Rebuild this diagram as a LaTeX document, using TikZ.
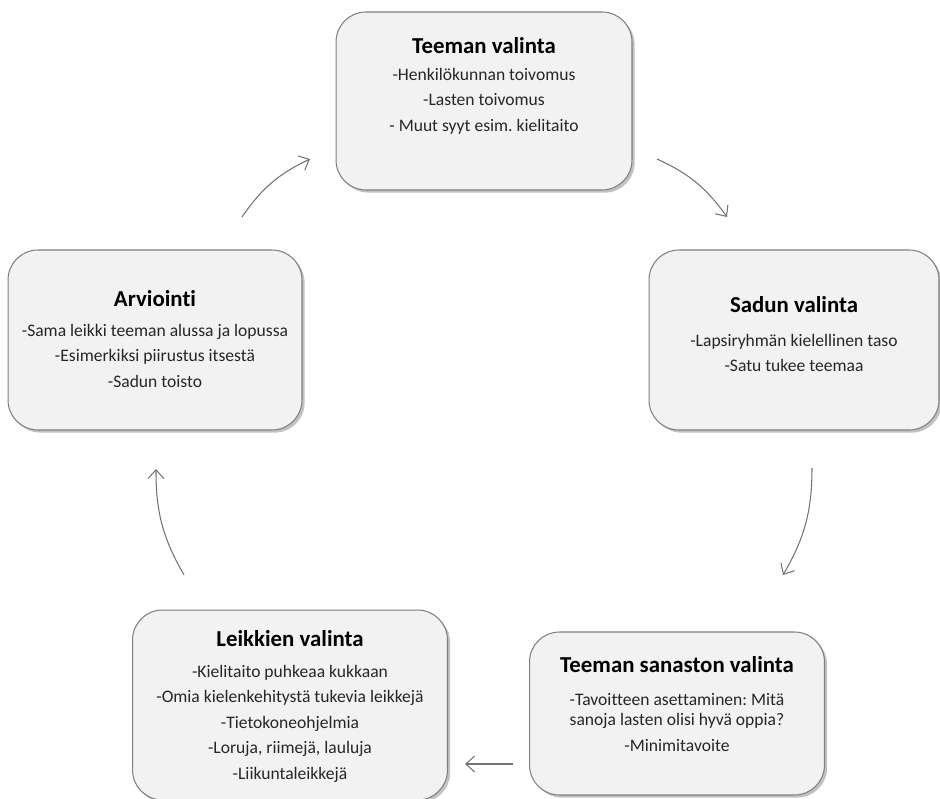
\documentclass[tikz,border=0pt]{standalone}
\usepackage{fontspec}
\setmainfont{Carlito}[Ligatures=NoCommon]
\frenchspacing
\usetikzlibrary{arrows.meta,shadows}

\newcommand{\vaihe}[4]{\parbox[c][#2][t]{#1}{\centering\vspace*{#3}%
  \fontsize{10}{11.5}\selectfont\setlength{\parskip}{3pt}\color{black!85}#4}}
\newcommand{\otsikko}[2][0pt]{{\fontsize{13}{14}\selectfont\bfseries\color{black}#2\par}\vspace{#1}}

\begin{document}
\begin{tikzpicture}[x=0.02cm,y=0.02cm,>={Straight Barb[length=5pt,width=9pt]},
    stage/.style={draw=black!50,line width=.6pt,fill=black!5,rounded corners=17pt,inner sep=0pt,
      drop shadow={shadow xshift=1.5pt,shadow yshift=-1.5pt,fill=black!40,opacity=.6}},
    flow/.style={->,draw=black!55,line width=.6pt}]
            \useasboundingbox (0,0) rectangle (940,-798);

            \node [stage] (teema) at (484,-101) {\vaihe{5.92cm}{3.56cm}{0.41cm}{\otsikko[0.5pt]{Teeman valinta}
              -Henkilökunnan toivomus\par -Lasten toivomus\par - Muut syyt esim. kielitaito}};
            \node [stage] (satu) at (794,-340) {\vaihe{5.80cm}{3.60cm}{0.83cm}{\otsikko[4.5pt]{Sadun valinta}
              -Lapsiryhmän kielellinen taso\par -Satu tukee teemaa}};
            \node [stage] (sanasto) at (677,-713.5) {\vaihe{5.90cm}{3.26cm}{0.39cm}{\otsikko[4pt]{Teeman sanaston valinta}
              -Tavoitteen asettaminen: Mitä\\ sanoja lasten olisi hyvä oppia?\par -Minimitavoite}};
            \node [stage] (leikit) at (290,-705) {\vaihe{6.30cm}{3.80cm}{0.31cm}{\otsikko[2.8pt]{Leikkien valinta}
              -Kielitaito puhkeaa kukkaan\par -Omia kielenkehitystä tukevia leikkejä\par
              -Tietokoneohjelmia\par -Loruja, riimejä, lauluja\par -Liikuntaleikkejä}};
            \node [stage] (arviointi) at (155,-340) {\vaihe{5.88cm}{3.60cm}{0.71cm}{\otsikko[2.3pt]{Arviointi}
              -Sama leikki teeman alussa ja lopussa\par -Esimerkiksi piirustus itsestä\par -Sadun toisto}};

            \coordinate (a1) at (242,-217); \coordinate (b1) at (310,-159);
            \coordinate (a2) at (657,-159); \coordinate (b2) at (727,-217);
            \coordinate (a3) at (812,-468); \coordinate (b3) at (783,-575);
            \coordinate (a4) at (513,-764); \coordinate (b4) at (465,-764);
            \coordinate (a5) at (184,-575); \coordinate (b5) at (156,-469);

            \draw [flow] (a1) to[bend left=15] (b1);
            \draw [flow] (a2) to[bend left=15] (b2);
            \draw [flow] (a3) to[bend left=15] (b3);
            \draw [flow] (a4) -- (b4);
            \draw [flow] (a5) to[bend left=15] (b5);

        \end{tikzpicture}
\end{document}
